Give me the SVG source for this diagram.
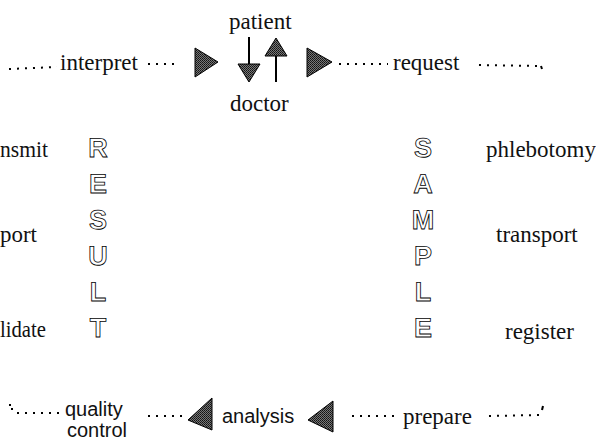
<svg xmlns="http://www.w3.org/2000/svg" width="596" height="440" viewBox="0 0 596 440">
<style>
.s{font-family:"Liberation Serif","Times New Roman",serif;font-size:23px;fill:#111}
.h{font-family:"Liberation Sans",Arial,sans-serif;font-size:20px;fill:#111}
.o{font-family:"Liberation Sans",Arial,sans-serif;font-weight:bold;font-size:27px;fill:#fff;stroke:#000;stroke-width:0.8;text-anchor:middle;text-rendering:geometricPrecision}
.d{stroke:#000;stroke-width:2;stroke-dasharray:2 6;fill:none}
.t{fill:url(#dith);stroke:#000;stroke-width:1}
.a{stroke:#000;stroke-width:2;fill:none}
</style>
<defs>
<pattern id="dith" width="2" height="2" patternUnits="userSpaceOnUse">
<rect width="2" height="2" fill="#777"/>
<rect width="1" height="1" fill="#111"/>
<rect x="1" y="1" width="1" height="1" fill="#222"/>
</pattern>
</defs>
<rect width="596" height="440" fill="#fff"/>
<g id="connectors">
<line class="d" x1="9" y1="69" x2="57" y2="67"/>
<line class="d" x1="148" y1="64" x2="180" y2="64"/>
<polygon class="t" points="195,48 218,62 195,77"/>
<line class="a" x1="249" y1="37" x2="249" y2="66"/>
<polygon class="t" points="238,64 260,64 249,82"/>
<line class="a" x1="276" y1="82" x2="276" y2="55"/>
<polygon class="t" points="265,56 287,56 276,38"/>
<polygon class="t" points="307,48 332,62 307,77"/>
<line class="d" x1="339" y1="64" x2="388" y2="64"/>
<line class="d" x1="479" y1="65" x2="540" y2="66"/>
<path d="M541,66 l1,3" stroke="#000" stroke-width="2"/>
<rect x="9" y="404" width="2" height="2" fill="#000"/>
<rect x="11" y="408" width="2" height="2" fill="#000"/>
<line class="d" x1="17" y1="413" x2="62" y2="413"/>
<line class="d" x1="148" y1="416" x2="182" y2="416"/>
<polygon class="t" points="188,420 212,398 212,430"/>
<polygon class="t" points="308,420 333,401 333,432"/>
<line class="d" x1="352" y1="416" x2="398" y2="416"/>
<line class="d" x1="489" y1="416" x2="540" y2="415"/>
<path d="M543,406 l-1,4" stroke="#000" stroke-width="2"/>
</g>
<g id="patient"><text class="s" x="229" y="29">patient</text></g>
<g id="doctor"><text class="s" x="230" y="111">doctor</text></g>
<g id="interpret"><text class="s" x="60" y="70">interpret</text></g>
<g id="request"><text class="s" x="393" y="70">request</text></g>
<g id="transmit"><text class="s" x="0" y="157" textLength="48" lengthAdjust="spacingAndGlyphs">nsmit</text></g>
<g id="report"><text class="s" x="0" y="242" textLength="37" lengthAdjust="spacingAndGlyphs">port</text></g>
<g id="validate"><text class="s" x="0" y="337" textLength="46" lengthAdjust="spacingAndGlyphs">lidate</text></g>
<g id="phlebotomy"><text class="s" x="486" y="157">phlebotomy</text></g>
<g id="transport"><text class="s" x="496" y="242">transport</text></g>
<g id="register"><text class="s" x="505" y="339">register</text></g>
<g id="result">
<text class="o" x="98" y="157">R</text>
<text class="o" x="98" y="193">E</text>
<text class="o" x="98" y="229">S</text>
<text class="o" x="98" y="265">U</text>
<text class="o" x="98" y="301">L</text>
<text class="o" x="98" y="337">T</text>
</g>
<g id="sample">
<text class="o" x="423" y="157">S</text>
<text class="o" x="423" y="193">A</text>
<text class="o" x="423" y="229">M</text>
<text class="o" x="423" y="265">P</text>
<text class="o" x="423" y="301">L</text>
<text class="o" x="423" y="337">E</text>
</g>
<g id="quality-control"><text class="h" x="65" y="416">quality</text><text class="h" x="67" y="437">control</text></g>
<g id="analysis"><text class="h" x="222" y="423" font-size="21">analysis</text></g>
<g id="prepare"><text class="s" x="403" y="424">prepare</text></g>
</svg>
